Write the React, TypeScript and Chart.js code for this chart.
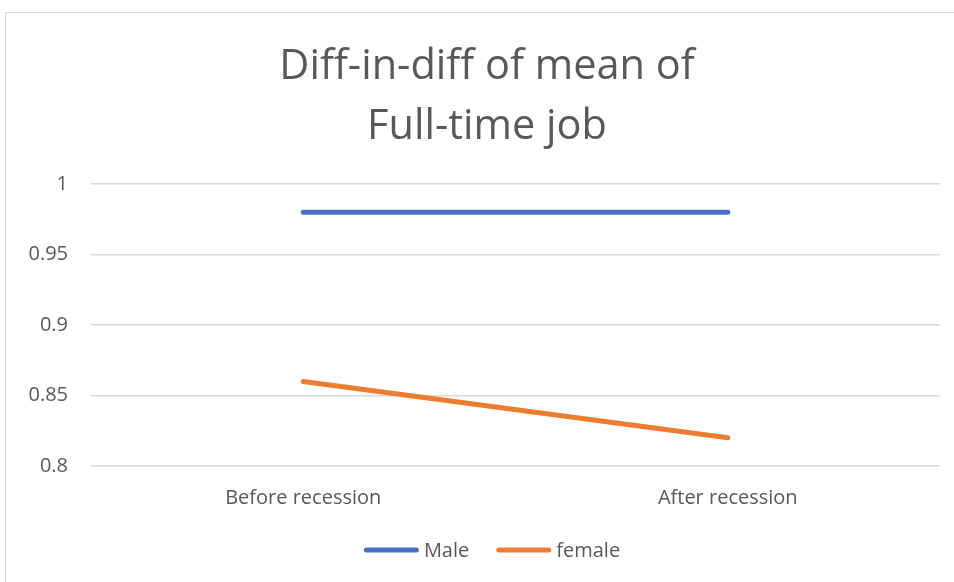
import React, { useEffect, useRef } from "react";
import { Chart, registerables } from "chart.js";

Chart.register(...registerables);

const titleLines = ["Diff-in-diff of mean of", "Full-time job"];
const categories = ["Before recession", "After recession"];
const maleValues = [0.98, 0.98];
const femaleValues = [0.86, 0.82];
const yTickValues = [0.8, 0.85, 0.9, 0.95, 1];
const seriesNames = ["Male", "female"];

const FONT = "'Open Sans', 'Noto Sans', sans-serif";
const TEXT = "#595959";
const GRID = "#d9d9d9";
const BLUE = "#4472C4";
const ORANGE = "#ED7D31";

const headerLegendPlugin = {
  id: "headerLegend",
  afterDraw(chart: any) {
    const ctx = chart.ctx as CanvasRenderingContext2D;
    ctx.save();
    // Title
    ctx.fillStyle = TEXT;
    ctx.textAlign = "center";
    ctx.textBaseline = "alphabetic";
    ctx.font = `41.5px ${FONT}`;
    const titleX = 487;
    titleLines.forEach((line, i) => {
      ctx.fillText(line, titleX, 79 + i * 60);
    });
    // Legend
    ctx.font = `20px ${FONT}`;
    const lineLen = 55;
    const gap = 5;
    const itemSpace = 27;
    const items = chart.data.datasets.map((d: any) => ({
      text: d.label as string,
      color: d.borderColor as string,
      w: ctx.measureText(d.label).width,
    }));
    const total =
      items.reduce((s: number, it: any) => s + lineLen + gap + it.w, 0) +
      itemSpace * (items.length - 1);
    let x = 492 - total / 2;
    const ly = 550;
    ctx.textAlign = "left";
    items.forEach((it: any) => {
      ctx.beginPath();
      ctx.strokeStyle = it.color;
      ctx.lineWidth = 5;
      ctx.lineCap = "round";
      ctx.moveTo(x + 2.5, ly);
      ctx.lineTo(x + lineLen - 2.5, ly);
      ctx.stroke();
      ctx.fillStyle = TEXT;
      ctx.fillText(it.text, x + lineLen + gap, ly + 7);
      x += lineLen + gap + it.w + itemSpace;
    });
    ctx.restore();
  },
};

export default function App() {
  const ref = useRef<HTMLCanvasElement | null>(null);

  useEffect(() => {
    if (!ref.current) return;
    const chart = new Chart(ref.current, {
      type: "line",
      data: {
        labels: categories,
        datasets: [
          {
            label: seriesNames[0],
            data: maleValues,
            borderColor: BLUE,
            backgroundColor: BLUE,
            borderWidth: 5,
            borderCapStyle: "round",
            pointRadius: 0,
            pointHoverRadius: 0,
          },
          {
            label: seriesNames[1],
            data: femaleValues,
            borderColor: ORANGE,
            backgroundColor: ORANGE,
            borderWidth: 5,
            borderCapStyle: "round",
            pointRadius: 0,
            pointHoverRadius: 0,
          },
        ],
      },
      options: {
        animation: false,
        responsive: false,
        maintainAspectRatio: false,
        layout: { padding: { left: 0, right: 14, top: 184, bottom: 52 } },
        scales: {
          x: {
            offset: true,
            grid: { display: false, drawTicks: false },
            border: { display: false },
            ticks: { color: TEXT, font: { family: FONT, size: 20 }, padding: 20 },
            afterFit: (s: any) => {
              s.height = 64;
            },
          },
          y: {
            min: yTickValues[0],
            max: yTickValues[yTickValues.length - 1],
            afterBuildTicks: (s: any) => {
              s.ticks = yTickValues.map((v) => ({ value: v }));
            },
            grid: { color: GRID, lineWidth: 1.5, drawTicks: false },
            border: { display: false },
            ticks: {
              color: TEXT,
              font: { family: FONT, size: 20 },
              padding: 23,
              callback: (v: any) => String(Number(v)),
            },
            afterFit: (s: any) => {
              s.width = 91;
            },
          },
        },
        plugins: {
          title: { display: false },
          legend: { display: false },
          tooltip: { enabled: false },
        },
      },
      plugins: [headerLegendPlugin],
    });
    return () => chart.destroy();
  }, []);

  return (
    <div
      style={{
        position: "absolute",
        left: 0,
        top: 0,
        width: 954,
        height: 582,
        overflow: "hidden",
        background: "#fff",
      }}
    >
      <div
        style={{
          position: "absolute",
          left: 5,
          top: 12,
          width: 1000,
          height: 700,
          border: "1px solid #d9d9d9",
        }}
      />
      <canvas
        ref={ref}
        width={954}
        height={582}
        style={{ position: "absolute", left: 0, top: 0, width: 954, height: 582 }}
      />
    </div>
  );
}
